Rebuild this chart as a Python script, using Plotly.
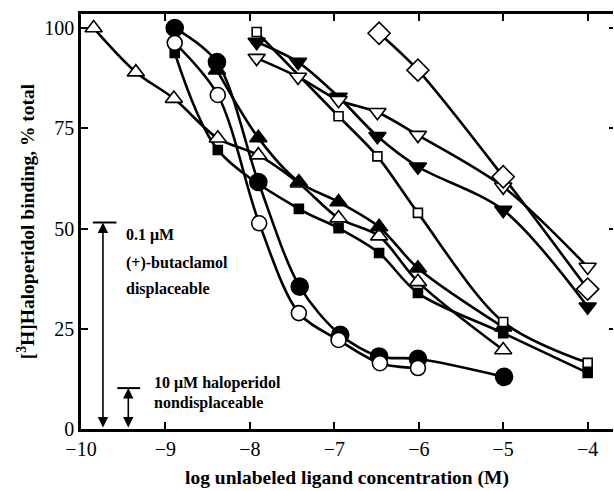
import plotly.graph_objects as go

# ---- data (log M, % total) ----
open_tri_x = [-9.85, -9.35, -8.9, -8.38, -7.9, -7.42, -6.95, -6.47, -6.01, -5.0]
open_tri_y = [100, 89, 82.4, 72.5, 68.3, 61.3, 52.6, 48.1, 36.7, 19.7]

fill_tri_x = [-8.39, -7.9, -7.42, -6.95, -6.47, -6.01, -5.0]
fill_tri_y = [89.5, 72.6, 61.6, 56.6, 50.4, 40.1, 25.4]

fill_sq_x = [-8.89, -8.38, -7.42, -6.95, -6.47, -6.01, -5.0, -4.0]
fill_sq_y = [93.8, 69.6, 54.9, 50.1, 43.9, 33.9, 23.9, 14.0]

fill_circ_x = [-8.89, -8.39, -7.9, -7.41, -6.93, -6.47, -6.01, -4.99]
fill_circ_y = [100, 91.5, 61.6, 35.5, 23.5, 18.1, 17.5, 13.0]

open_circ_x = [-8.89, -8.38, -7.89, -7.42, -6.95, -6.46, -6.01]
open_circ_y = [96.3, 83.3, 51.3, 28.9, 22.2, 16.4, 15.2]

open_sq_x = [-7.92, -6.95, -6.49, -6.01, -5.0, -4.0]
open_sq_y = [99, 78, 68, 53.9, 26.7, 16.5]

fill_dtri_x = [-7.92, -7.43, -6.95, -6.49, -6.01, -5.0, -4.0]
fill_dtri_y = [96.5, 91.5, 82.8, 73.0, 65.4, 54.6, 30.5]

open_dtri_x = [-7.92, -7.43, -6.95, -6.49, -6.01, -5.0, -4.0]
open_dtri_y = [92.5, 87.8, 82.0, 79.0, 73.3, 60.4, 40.4]

open_dia_x = [-6.47, -6.01, -5.0, -4.0]
open_dia_y = [98.7, 89.5, 62.9, 34.9]

x_ticks = [-10, -9, -8, -7, -6, -5, -4]
x_tick_text = ["\u221210", "\u22129", "\u22128", "\u22127", "\u22126", "\u22125", "\u22124"]
y_ticks = [0, 25, 50, 75, 100]

series = [
    (open_tri_x, open_tri_y, "triangle-up", "white", 15),
    (fill_tri_x, fill_tri_y, "triangle-up", "black", 15),
    (fill_sq_x, fill_sq_y, "square", "black", 9),
    (fill_circ_x, fill_circ_y, "circle", "black", 17),
    (open_circ_x, open_circ_y, "circle", "white", 15),
    (open_sq_x, open_sq_y, "square", "white", 9),
    (fill_dtri_x, fill_dtri_y, "triangle-down", "black", 15),
    (open_dtri_x, open_dtri_y, "triangle-down", "white", 15),
    (open_dia_x, open_dia_y, "diamond", "white", 17),
]

FONT = "Liberation Serif"
fig = go.Figure()

for xs, ys, sym, col, sz in series:
    fig.add_trace(go.Scatter(x=xs, y=ys, mode="lines",
                             line=dict(color="black", width=2.6, shape="spline", smoothing=0.9),
                             showlegend=False, hoverinfo="skip"))
for xs, ys, sym, col, sz in series:
    fig.add_trace(go.Scatter(x=xs, y=ys, mode="markers",
                             marker=dict(symbol=sym, color=col, size=sz,
                                         line=dict(color="black", width=1.6)),
                             showlegend=False))

# invisible trace for right-side ticks
fig.add_trace(go.Scatter(x=[-10], y=[0], yaxis="y2", mode="markers",
                         marker=dict(opacity=0), showlegend=False, hoverinfo="skip"))

# arrows
arrows = [(-9.74, 51.5, -9.86, -9.58), (-9.44, 10.2, -9.57, -9.30)]
for ax_x, top, b0, b1 in arrows:
    fig.add_annotation(x=ax_x, y=top, ax=ax_x, ay=0, xref="x", yref="y", axref="x", ayref="y",
                       text="", showarrow=True, arrowhead=2, arrowsize=1.3, arrowwidth=1.6,
                       arrowside="end+start", arrowcolor="black", standoff=0, startstandoff=0)
    fig.add_shape(type="line", x0=b0, x1=b1, y0=top, y1=top, xref="x", yref="y",
                  line=dict(color="black", width=2))

texts = [(-9.49, 48.4, "0.1 \u03bcM"), (-9.49, 41.4, "(+)-butaclamol"), (-9.49, 34.9, "displaceable"),
         (-9.16, 11.5, "10 \u03bcM haloperidol"), (-9.16, 6.5, "nondisplaceable")]
for tx, ty, t in texts:
    fig.add_annotation(x=tx, y=ty, text="<b>" + t + "</b>", showarrow=False, xanchor="left",
                       yanchor="middle", font=dict(family=FONT, size=16, color="black"))

fig.update_layout(
    width=614, height=491,
    margin=dict(l=81, r=1, t=14, b=62),
    plot_bgcolor="white", paper_bgcolor="white",
    font=dict(family=FONT, size=20, color="black"),
    xaxis=dict(range=[-10, -3.7], tickvals=x_ticks, ticktext=x_tick_text,
               ticks="inside", ticklen=7, tickwidth=2, tickcolor="black",
               tickfont=dict(family=FONT, size=20),
               showline=True, linewidth=2.5, linecolor="black", mirror="ticks",
               showgrid=False, zeroline=False,
               title=dict(text="<b>log unlabeled ligand concentration (M)</b>", standoff=12,
                          font=dict(family=FONT, size=19.5))),
    yaxis=dict(range=[0, 103.5], tickvals=y_ticks,
               ticks="inside", ticklen=7, tickwidth=2, tickcolor="black",
               tickfont=dict(family=FONT, size=20),
               showline=True, linewidth=2.5, linecolor="black",
               showgrid=False, zeroline=False,
               title=dict(text="<b>[<sup>3</sup>H]Haloperidol binding, % total</b>", standoff=5,
                          font=dict(family=FONT, size=19.5))),
    yaxis2=dict(range=[0, 103.5], overlaying="y", side="right", tickvals=y_ticks,
                ticks="inside", ticklen=4, tickwidth=2, tickcolor="black",
                showticklabels=False, showline=False, showgrid=False, zeroline=False),
)

fig.write_html("out.html")
